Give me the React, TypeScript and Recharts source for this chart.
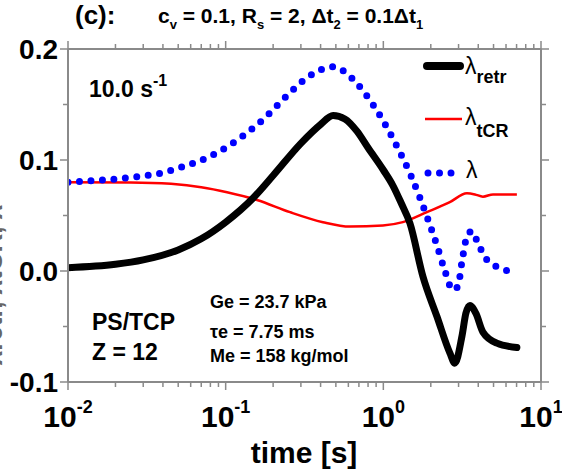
import { LineChart, Line, XAxis, YAxis } from "recharts";

// retraction ratio, tube-length ratio and total stretch vs. time
const retrTime = [0.01, 0.02, 0.03, 0.05, 0.07, 0.1, 0.15, 0.2, 0.3, 0.4, 0.48, 0.57, 0.68, 0.8, 1.0, 1.15, 1.3, 1.475, 1.783, 2.188, 2.644, 2.84, 3.15, 3.34, 3.54, 3.86, 4.28, 5.25, 7.03];
const retrValue = [0.003, 0.006, 0.01, 0.019, 0.029, 0.044, 0.066, 0.086, 0.115, 0.132, 0.14, 0.137, 0.126, 0.111, 0.091, 0.077, 0.061, 0.043, -0.005, -0.041, -0.074, -0.083, -0.059, -0.038, -0.031, -0.038, -0.055, -0.065, -0.069];

const tcrTime = [0.01, 0.025, 0.045, 0.07, 0.102, 0.158, 0.256, 0.414, 0.614, 0.994, 1.33, 1.89, 2.64, 3.39, 3.81, 4.28, 4.96, 7.03];
const tcrValue = [0.08, 0.0798, 0.0785, 0.0755, 0.071, 0.064, 0.053, 0.044, 0.04, 0.041, 0.044, 0.053, 0.062, 0.07, 0.069, 0.067, 0.069, 0.069];

const lamTime = [0.01, 0.0274, 0.0383, 0.0536, 0.076, 0.0893, 0.1268, 0.1774, 0.245, 0.343, 0.479, 0.67, 0.859, 1.274, 1.496, 1.706, 1.946, 2.188, 2.422, 2.763, 2.97, 3.15, 3.39, 3.65, 3.93, 4.48, 5.65, 6.53];
const lamValue = [0.08, 0.085, 0.088, 0.094, 0.102, 0.107, 0.121, 0.138, 0.158, 0.176, 0.184, 0.17, 0.15, 0.107, 0.086, 0.066, 0.044, 0.023, 0.003, -0.017, -0.014, 0.008, 0.031, 0.036, 0.027, 0.011, 0.002, -0.001];

const xMajor = [0.01, 0.1, 1, 10];
const xTicks = [0.01, 0.02, 0.03, 0.04, 0.05, 0.06, 0.07, 0.08, 0.09, 0.1, 0.2, 0.3, 0.4, 0.5, 0.6, 0.7, 0.8, 0.9, 1, 2, 3, 4, 5, 6, 7, 8, 9, 10];
const yTicks = [-0.1, -0.05, 0, 0.05, 0.1, 0.15, 0.2];
const yMajor = [-0.1, 0, 0.1, 0.2];

const toRows = (ts: number[], vs: number[]) => ts.map((t, i) => ({ t, v: vs[i] }));
const retrData = toRows(retrTime, retrValue);
const tcrData = toRows(tcrTime, tcrValue);
const lamData = toRows(lamTime, lamValue);

const FONT = "'Liberation Sans', Arial, sans-serif";
const AXIS = "#8a8a8a";

const isMajorX = (v: number) => xMajor.some((m) => Math.abs(m - v) < 1e-9);
const isMajorY = (v: number) => yMajor.some((m) => Math.abs(m - v) < 1e-9);

const BottomTick = ({ x, y, payload }: any) => {
  const major = isMajorX(payload.value);
  const exp = Math.round(Math.log10(payload.value));
  return (
    <g>
      <line x1={x} x2={x} y1={y} y2={y + (major ? 8 : 5)} stroke={AXIS} strokeWidth={1.5} />
      {major && (
        <text x={x} y={y + 45} textAnchor="middle" fontFamily={FONT} fontWeight="bold" fontSize={30} fill="#000">
          10<tspan fontSize={18} dy={-14}>{exp}</tspan>
        </text>
      )}
    </g>
  );
};

const TopTick = ({ x, y, payload }: any) => {
  const major = isMajorX(payload.value);
  return <line x1={x} x2={x} y1={y} y2={y - (major ? 8 : 5)} stroke={AXIS} strokeWidth={1.5} />;
};

const LeftTick = ({ x, y, payload }: any) => {
  const major = isMajorY(payload.value);
  return (
    <g>
      <line x1={x} x2={x - (major ? 8 : 5)} y1={y} y2={y} stroke={AXIS} strokeWidth={1.5} />
      {major && (
        <text x={x - 10} y={y + 10} textAnchor="end" fontFamily={FONT} fontWeight="bold" fontSize={28} fill="#000">
          {payload.value.toFixed(1)}
        </text>
      )}
    </g>
  );
};

const RightTick = ({ x, y, payload }: any) => {
  const major = isMajorY(payload.value);
  return <line x1={x} x2={x + (major ? 8 : 5)} y1={y} y2={y} stroke={AXIS} strokeWidth={1.5} />;
};

export default function App() {
  return (
    <div style={{ position: "absolute", left: 0, top: 0, width: 562, height: 472, background: "#fff" }}>
      <LineChart width={562} height={472} margin={{ top: 39, right: 11, bottom: 60, left: 8 }}>
        <XAxis
          xAxisId="b"
          dataKey="t"
          type="number"
          scale="log"
          domain={[0.01, 10]}
          allowDataOverflow
          ticks={xTicks}
          interval={0}
          tickSize={0}
          tickMargin={0}
          height={30}
          axisLine={{ stroke: AXIS, strokeWidth: 2 }}
          tickLine={false}
          tick={<BottomTick />}
        />
        <XAxis
          xAxisId="top"
          orientation="top"
          dataKey="t"
          type="number"
          scale="log"
          domain={[0.01, 10]}
          allowDataOverflow
          ticks={xTicks}
          interval={0}
          tickSize={0}
          tickMargin={0}
          height={10}
          axisLine={{ stroke: AXIS, strokeWidth: 2 }}
          tickLine={false}
          tick={<TopTick />}
        />
        <YAxis
          yAxisId="l"
          type="number"
          domain={[-0.1, 0.2]}
          allowDataOverflow
          ticks={yTicks}
          interval={0}
          tickSize={0}
          tickMargin={0}
          width={60}
          axisLine={{ stroke: AXIS, strokeWidth: 2 }}
          tickLine={false}
          tick={<LeftTick />}
        />
        <YAxis
          yAxisId="r"
          orientation="right"
          type="number"
          domain={[-0.1, 0.2]}
          allowDataOverflow
          ticks={yTicks}
          interval={0}
          tickSize={0}
          tickMargin={0}
          width={10}
          axisLine={{ stroke: AXIS, strokeWidth: 2 }}
          tickLine={false}
          tick={<RightTick />}
        />
        <Line xAxisId="b" yAxisId="l" data={tcrData} dataKey="v" name="tcr" type="monotone" stroke="#ff0000" strokeWidth={2.5} dot={false} isAnimationActive={false} />
        <Line xAxisId="b" yAxisId="l" data={lamData} dataKey="v" name="lam" type="monotone" stroke="#0000ff" strokeWidth={7} strokeDasharray="0 11.5" strokeLinecap="round" dot={false} isAnimationActive={false} />
        <Line xAxisId="b" yAxisId="l" data={retrData} dataKey="v" name="retr" type="monotone" stroke="#000" strokeWidth={7} strokeLinecap="round" dot={false} isAnimationActive={false} />
      </LineChart>
      <svg width={562} height={472} style={{ position: "absolute", left: 0, top: 0, pointerEvents: "none" }} fontFamily={FONT} fontWeight="bold" fill="#000">
        {/* legend */}
        <line x1={427} x2={460} y1={66} y2={66} stroke="#000" strokeWidth={8} strokeLinecap="round" />
        <text x={465} y={74} fontSize={23} fontWeight="normal">
          λ<tspan fontSize={18} fontWeight="bold" dy={9}>retr</tspan>
        </text>
        <line x1={425} x2={462} y1={119} y2={119} stroke="#ff0000" strokeWidth={2.5} />
        <text x={465} y={125} fontSize={23} fontWeight="normal">
          λ<tspan fontSize={18} fontWeight="bold" dy={12}>tCR</tspan>
        </text>
        <line x1={428} x2={452} y1={173} y2={173} stroke="#0000ff" strokeWidth={7} strokeDasharray="0 11.5" strokeLinecap="round" />
        <text x={466} y={178} fontSize={23} fontWeight="normal">λ</text>

        <text x={75} y={24} fontSize={26}>(c):</text>
        <text x={158} y={23} fontSize={21}>
          c<tspan fontSize={13} dy={6}>v</tspan>
          <tspan dy={-6}> = 0.1, R</tspan>
          <tspan fontSize={13} dy={6}>s</tspan>
          <tspan dy={-6}> = 2, Δt</tspan>
          <tspan fontSize={13} dy={6}>2</tspan>
          <tspan dy={-6}> = 0.1Δt</tspan>
          <tspan fontSize={13} dy={6}>1</tspan>
        </text>
        <text x={89} y={97} fontSize={23}>
          10.0 s<tspan fontSize={16} dy={-11}>-1</tspan>
        </text>
        <text x={92} y={330} fontSize={23}>PS/TCP</text>
        <text x={92} y={360} fontSize={23}>Z = 12</text>
        <text x={210} y={308} fontSize={18}>Ge = 23.7 kPa</text>
        <text x={210} y={338} fontSize={18}>τe = 7.75 ms</text>
        <text x={210} y={362} fontSize={18}>Me = 158 kg/mol</text>
        <text x={304} y={463} fontSize={30} textAnchor="middle">time [s]</text>
        <text transform="translate(2 285) rotate(-90)" fontSize={26} textAnchor="middle" fill="#666">
          λretr, λtCR, λ
        </text>
      </svg>
    </div>
  );
}
